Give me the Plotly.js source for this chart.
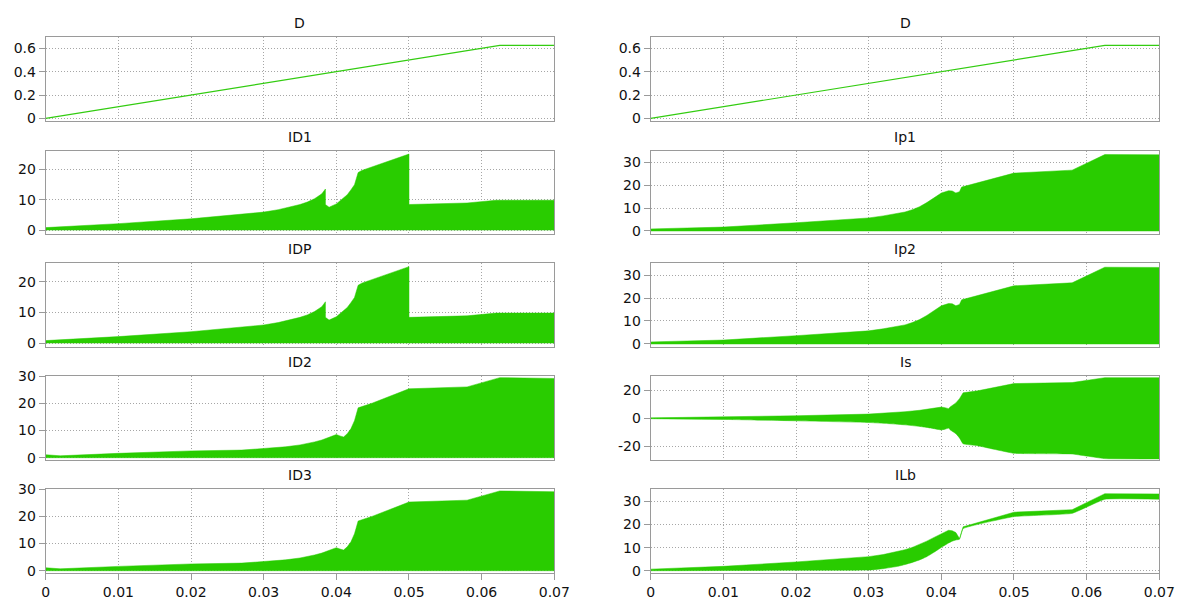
<!DOCTYPE html>
<html>
<head>
<meta charset="utf-8">
<script src="https://cdn.plot.ly/plotly-3.0.1.min.js"></script>
<style>html,body{margin:0;padding:0;background:#fff;}#chart{width:1177px;height:601px;}</style>
</head>
<body>
<div id="chart"></div>
<script>
// ---------- DATA ----------
// D: duty cycle
const tD = [0, 0.0625, 0.07];
const yD = [0, 0.625, 0.625];

// ID1 envelope (upper; lower ~0)
const tID1 = [0, 0.01, 0.02, 0.026, 0.03, 0.032, 0.034, 0.035, 0.036, 0.037, 0.038, 0.0385, 0.0385, 0.039, 0.040, 0.041, 0.0415, 0.042, 0.0425, 0.043, 0.0435, 0.05, 0.05, 0.058, 0.062, 0.07];
const upID1 = [0.8, 2.1, 3.7, 4.9, 5.9, 6.7, 7.7, 8.4, 9.2, 10.3, 11.9, 13.5, 8.4, 7.5, 8.6, 10.4, 11.6, 13.2, 14.9, 18.9, 19.6, 25, 8.4, 8.9, 9.8, 9.8];
const loID1 = [0, 0, 0, 0, 0, 0, 0, 0, 0, 0, 0, 0, 0, 0, 0, 0, 0, 0, 0, 0, 0, 0, 0, 0, 0, 0];

// IDP envelope
const tIDP = [0, 0.01, 0.02, 0.026, 0.03, 0.032, 0.034, 0.035, 0.036, 0.037, 0.038, 0.0385, 0.0385, 0.039, 0.040, 0.041, 0.0415, 0.042, 0.0425, 0.043, 0.0435, 0.05, 0.05, 0.058, 0.062, 0.07];
const upIDP = [0.8, 2.1, 3.7, 4.9, 5.9, 6.7, 7.7, 8.4, 9.2, 10.3, 11.9, 13.5, 8.4, 7.5, 8.6, 10.4, 11.6, 13.2, 14.9, 18.9, 19.6, 25, 8.4, 8.9, 9.8, 9.8];
const loIDP = [0, 0, 0, 0, 0, 0, 0, 0, 0, 0, 0, 0, 0, 0, 0, 0, 0, 0, 0, 0, 0, 0, 0, 0, 0, 0];

// ID2 envelope
const tID2 = [0, 0.002, 0.01, 0.02, 0.027, 0.03, 0.033, 0.035, 0.036, 0.037, 0.038, 0.039, 0.040, 0.0405, 0.041, 0.0415, 0.042, 0.0425, 0.043, 0.045, 0.05, 0.058, 0.0625, 0.07];
const upID2 = [1.1, 0.7, 1.6, 2.5, 2.8, 3.3, 4.0, 4.7, 5.2, 5.8, 6.5, 7.4, 8.5, 8.0, 7.6, 8.8, 10.6, 13.6, 18.3, 20.1, 25.3, 26, 29.4, 29.1];
const loID2 = [0, 0, 0, 0, 0, 0, 0, 0, 0, 0, 0, 0, 0, 0, 0, 0, 0, 0, 0, 0, 0, 0, 0, 0];

// ID3 envelope
const tID3 = [0, 0.002, 0.01, 0.02, 0.027, 0.03, 0.033, 0.035, 0.036, 0.037, 0.038, 0.039, 0.040, 0.0405, 0.041, 0.0415, 0.042, 0.0425, 0.043, 0.045, 0.05, 0.058, 0.0625, 0.07];
const upID3 = [1.1, 0.7, 1.6, 2.5, 2.8, 3.3, 4.0, 4.7, 5.2, 5.8, 6.5, 7.4, 8.5, 8.0, 7.6, 8.8, 10.6, 13.6, 18.3, 20.1, 25.3, 26, 29.4, 29.1];
const loID3 = [0, 0, 0, 0, 0, 0, 0, 0, 0, 0, 0, 0, 0, 0, 0, 0, 0, 0, 0, 0, 0, 0, 0, 0];

// Ip1 envelope
const tIp1 = [0, 0.01, 0.02, 0.03, 0.032, 0.034, 0.035, 0.036, 0.037, 0.038, 0.039, 0.040, 0.041, 0.0415, 0.042, 0.0425, 0.0428, 0.05, 0.058, 0.0625, 0.07];
const upIp1 = [0.9, 1.7, 3.6, 5.7, 6.6, 7.6, 8.3, 9.3, 10.6, 12.4, 14.6, 16.6, 17.6, 17.5, 16.6, 17.2, 19.2, 25.3, 26.6, 33.4, 33.3];
const loIp1 = [0, 0, 0, 0, 0, 0, 0, 0, 0, 0, 0, 0, 0, 0, 0, 0, 0, 0, 0, 0, 0];

// Ip2 envelope
const tIp2 = [0, 0.01, 0.02, 0.03, 0.032, 0.034, 0.035, 0.036, 0.037, 0.038, 0.039, 0.040, 0.041, 0.0415, 0.042, 0.0425, 0.0428, 0.05, 0.058, 0.0625, 0.07];
const upIp2 = [0.9, 1.7, 3.6, 5.7, 6.6, 7.6, 8.3, 9.3, 10.6, 12.4, 14.6, 16.6, 17.6, 17.5, 16.6, 17.2, 19.2, 25.3, 26.6, 33.4, 33.3];
const loIp2 = [0, 0, 0, 0, 0, 0, 0, 0, 0, 0, 0, 0, 0, 0, 0, 0, 0, 0, 0, 0, 0];

// Is envelope
const tIs = [0, 0.01, 0.02, 0.03, 0.033, 0.035, 0.037, 0.038, 0.039, 0.040, 0.0405, 0.041, 0.0412, 0.042, 0.0425, 0.043, 0.045, 0.05, 0.058, 0.0625, 0.07];
const upIs = [0.3, 0.8, 1.8, 3.0, 3.9, 4.7, 5.7, 6.4, 7.2, 8.0, 7.6, 6.9, 8.0, 11.0, 14.0, 18.2, 19.6, 24.8, 25.5, 29, 29];
const loIs = [-0.3, -0.8, -1.8, -3.0, -3.9, -4.7, -5.8, -6.5, -7.4, -8.3, -7.8, -7.0, -8.2, -11.0, -14.0, -18.2, -19.6, -25, -25.5, -28.8, -29];

// ILb envelope
const tILb = [0, 0.01, 0.02, 0.03, 0.032, 0.034, 0.035, 0.036, 0.037, 0.038, 0.039, 0.040, 0.041, 0.0415, 0.042, 0.0425, 0.043, 0.05, 0.058, 0.0625, 0.07];
const upILb = [0.7, 1.9, 3.8, 6.1, 7.0, 8.3, 9.1, 10.1, 11.3, 12.8, 14.4, 15.9, 17.5, 17.3, 16.5, 13.9, 19.0, 25.3, 26.4, 33.3, 33.2];
const loILb = [0, 0.1, 0.2, 0.3, 0.9, 1.9, 2.7, 3.6, 4.7, 6.1, 8.0, 10.1, 12.0, 12.8, 13.3, 13.6, 18.2, 23.4, 24.8, 30.9, 30.9];

// Tick labels for the Is panel (hyphen-minus as in the reference)
const isTickVals = [-20, 0, 20];
const isTickText = ['-20', '0', '20'];

// ---------- PANELS ----------
const panels = [
  {name: 'D',   col: 0, row: 0, line: true, t: tD, y: yD, range: [-0.02, 0.695], dtick: 0.2},
  {name: 'ID1', col: 0, row: 1, t: tID1, up: upID1, lo: loID1, range: [-1.4, 26.1], dtick: 10},
  {name: 'IDP', col: 0, row: 2, t: tIDP, up: upIDP, lo: loIDP, range: [-1.4, 26.1], dtick: 10},
  {name: 'ID2', col: 0, row: 3, t: tID2, up: upID2, lo: loID2, range: [-0.95, 30], dtick: 10},
  {name: 'ID3', col: 0, row: 4, t: tID3, up: upID3, lo: loID3, range: [-0.95, 30], dtick: 10},
  {name: 'D',   col: 1, row: 0, line: true, t: tD, y: yD, range: [-0.02, 0.695], dtick: 0.2},
  {name: 'Ip1', col: 1, row: 1, t: tIp1, up: upIp1, lo: loIp1, range: [-1.45, 35.1], dtick: 10},
  {name: 'Ip2', col: 1, row: 2, t: tIp2, up: upIp2, lo: loIp2, range: [-1.45, 35.1], dtick: 10},
  {name: 'Is',  col: 1, row: 3, t: tIs, up: upIs, lo: loIs, range: [-30, 30.2], tickvals: isTickVals, ticktext: isTickText},
  {name: 'ILb', col: 1, row: 4, t: tILb, up: upILb, lo: loILb, range: [-1.1, 35.2], dtick: 10}
];

// ---------- LAYOUT ----------
const W = 1177, H = 601;
const colX = [[45.7, 554.3], [650.7, 1159.3]];
const rowTop = [37.3, 150.7, 263.3, 376, 489.3];
const rowBot = [120.7, 234.3, 347.3, 460.3, 573.3];
const green = '#29cc00';
const frame = '#9a9a9a';
const gridCol = '#a6a6a6';
const font = {family: 'DejaVu Sans, Verdana, sans-serif', size: 14, color: '#111'};

const data = [];
const layout = {
  width: W, height: H,
  margin: {l: 0, r: 0, t: 0, b: 0},
  paper_bgcolor: '#fff', plot_bgcolor: '#fff',
  showlegend: false,
  font: font,
  annotations: []
};

panels.forEach((p, i) => {
  const k = i + 1;
  const xa = 'x' + (k === 1 ? '' : k), ya = 'y' + (k === 1 ? '' : k);
  const xKey = 'xaxis' + (k === 1 ? '' : k), yKey = 'yaxis' + (k === 1 ? '' : k);
  const xd = [colX[p.col][0] / W, colX[p.col][1] / W];
  const yd = [1 - rowBot[p.row] / H, 1 - rowTop[p.row] / H];
  const bottom = p.row === 4;
  layout[xKey] = {
    domain: xd, anchor: ya, range: [0, 0.07], dtick: 0.01, tick0: 0,
    showgrid: true, gridcolor: gridCol, griddash: '1px,2px', gridwidth: 1,
    zeroline: false, showline: true, mirror: true, linecolor: frame, linewidth: 1,
    ticks: bottom ? 'outside' : '', ticklen: 6, tickcolor: frame,
    showticklabels: bottom, tickfont: font, fixedrange: true
  };
  const yax = {
    domain: yd, anchor: xa, range: p.range,
    showgrid: true, gridcolor: gridCol, griddash: '1px,2px', gridwidth: 1,
    zeroline: false, showline: true, mirror: true, linecolor: frame, linewidth: 1,
    ticks: 'outside', ticklen: 6, tickcolor: frame, tickfont: font, fixedrange: true
  };
  if (p.tickvals) { yax.tickmode = 'array'; yax.tickvals = p.tickvals; yax.ticktext = p.ticktext; }
  else { yax.dtick = p.dtick; yax.tick0 = 0; }
  layout[yKey] = yax;
  layout.annotations.push({
    text: p.name, xref: 'paper', yref: 'paper',
    x: (xd[0] + xd[1]) / 2, y: yd[1], xanchor: 'center', yanchor: 'bottom',
    yshift: 4, showarrow: false, font: font
  });
  if (p.line) {
    data.push({x: p.t, y: p.y, xaxis: xa, yaxis: ya, type: 'scatter', mode: 'lines',
      line: {color: '#33cc11', width: 1.2}, hoverinfo: 'skip'});
  } else {
    data.push({x: p.t, y: p.lo, xaxis: xa, yaxis: ya, type: 'scatter', mode: 'lines',
      line: {color: green, width: 0.5, shape: 'spline', smoothing: 0.3}, hoverinfo: 'skip'});
    data.push({x: p.t, y: p.up, xaxis: xa, yaxis: ya, type: 'scatter', mode: 'lines',
      fill: 'tonexty', fillcolor: green, line: {color: green, width: 0.5}, hoverinfo: 'skip'});
  }
});

Plotly.newPlot('chart', data, layout, {displayModeBar: false, staticPlot: true});
</script>
</body>
</html>
